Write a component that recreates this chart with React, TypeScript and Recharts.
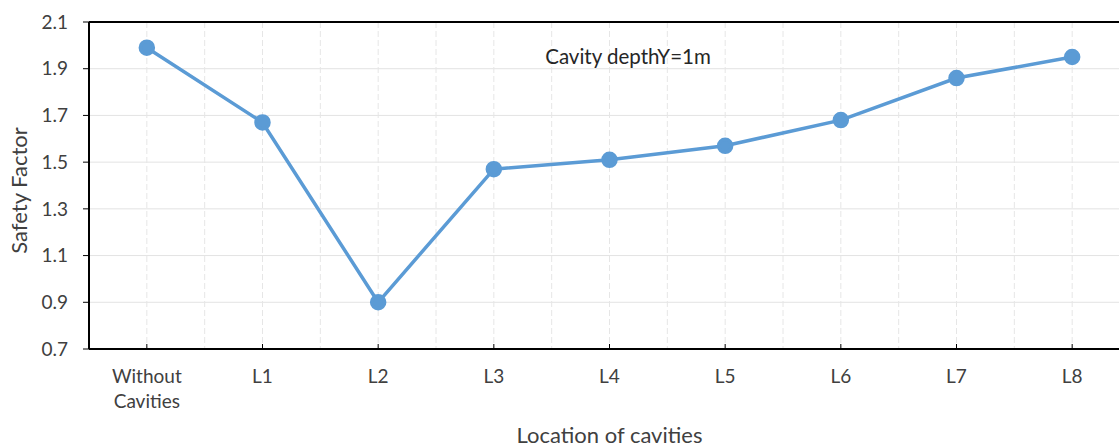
import {
  LineChart,
  Line,
  XAxis,
  YAxis,
  CartesianGrid,
  ReferenceLine,
  ReferenceDot,
  Label,
} from 'recharts';

const categories = ['Without\nCavities', 'L1', 'L2', 'L3', 'L4', 'L5', 'L6', 'L7', 'L8'];
const safetyFactor = [1.99, 1.67, 0.9, 1.47, 1.51, 1.57, 1.68, 1.86, 1.95];
const yTicks = [0.7, 0.9, 1.1, 1.3, 1.5, 1.7, 1.9, 2.1];
const xTicks = [0, 1, 2, 3, 4, 5, 6, 7, 8];
const gridSteps = [0, 0.5, 1, 1.5, 2, 2.5, 3, 3.5, 4, 4.5, 5, 5.5, 6, 6.5, 7, 7.5, 8, 8.5];
const xDomain: [number, number] = [-0.5, 8.5];

const data = categories.map((name, i) => ({ pos: i, name, sf: safetyFactor[i] }));

const FONT = 'Lato, "Open Sans", sans-serif';
const TEXT = '#404040';
const BLUE = '#5B9BD5';

function CategoryTick(props: any) {
  const { x, y, payload } = props;
  const lines = String(categories[payload.value] ?? '').split('\n');
  return (
    <text x={x} y={y} textAnchor="middle" fill={TEXT} fontSize={19} fontFamily={FONT}>
      {lines.map((ln, i) => (
        <tspan key={i} x={x} dy={i === 0 ? 14 : 25}>
          {ln}
        </tspan>
      ))}
    </text>
  );
}

// map a domain value to a pixel x, using the axis scale when it's usable
function gridX(xAxis: any, offset: any, v: number) {
  const s = xAxis?.scale;
  if (typeof s === 'function') return s(v);
  if (s && typeof s.map === 'function') return s.map(v);
  return offset.left + ((v - xDomain[0]) / (xDomain[1] - xDomain[0])) * offset.width;
}

export default function App() {
  return (
    <div style={{ position: 'fixed', left: 0, top: 0, width: 1119, height: 447, overflow: 'hidden', background: '#fff' }}>
      <LineChart width={1135} height={447} data={data} margin={{ top: 22, right: 5, left: 0, bottom: 0 }}>
        <CartesianGrid stroke="#e3e3e3" vertical={false} />
        <CartesianGrid
          stroke="#e6e6e6"
          horizontal={false}
          strokeDasharray="6 3"
          verticalCoordinatesGenerator={({ xAxis, offset }: any) => gridSteps.map((v) => gridX(xAxis, offset, v))}
        />
        <XAxis
          dataKey="pos"
          type="number"
          domain={xDomain}
          ticks={xTicks}
          interval={0}
          height={98}
          tickSize={-5}
          tickMargin={25}
          tick={<CategoryTick />}
          tickLine={{ stroke: '#000', strokeWidth: 1 }}
          axisLine={{ stroke: '#000', strokeWidth: 2 }}
        >
          <Label
            value="Location of cavities"
            position="insideBottom"
            offset={4}
            fill={TEXT}
            fontSize={22}
            fontFamily={FONT}
          />
        </XAxis>
        <YAxis
          type="number"
          domain={[0.7, 2.1]}
          ticks={yTicks}
          width={89}
          tickSize={6}
          tickMargin={15}
          tickFormatter={(v: number) => v.toFixed(1)}
          tick={{ fill: TEXT, fontSize: 19, fontFamily: FONT }}
          tickLine={{ stroke: '#000', strokeWidth: 1 }}
          axisLine={{ stroke: '#000', strokeWidth: 2 }}
        >
          <Label
            value="Safety Factor"
            angle={-90}
            position="insideLeft"
            offset={19}
            dy={5}
            fill={TEXT}
            fontSize={22}
            fontFamily={FONT}
            style={{ textAnchor: 'middle' }}
          />
        </YAxis>
        <ReferenceLine y={2.1} stroke="#000" strokeWidth={2} />
        <ReferenceDot
          x={4.16}
          y={1.95}
          r={0}
          fill="none"
          stroke="none"
          label={{ value: 'Cavity depthY=1m', position: 'center', fill: '#262626', fontSize: 20.5, fontFamily: FONT }}
        />
        <Line
          type="linear"
          dataKey="sf"
          stroke={BLUE}
          strokeWidth={3.5}
          dot={{ fill: BLUE, stroke: BLUE, r: 6.5 }}
          activeDot={false}
          isAnimationActive={false}
        />
      </LineChart>
    </div>
  );
}
